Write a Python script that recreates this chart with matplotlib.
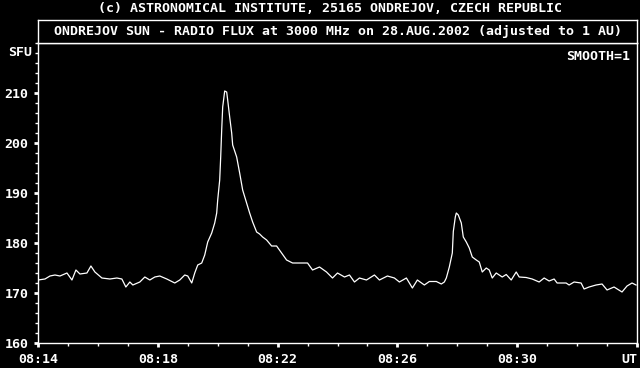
import matplotlib
matplotlib.use("Agg")
import matplotlib.pyplot as plt
from matplotlib.ticker import MultipleLocator

# seconds after 08:14:00 UT and flux in SFU
t_sec = [0, 14, 24, 34, 44, 58, 68, 76, 84, 98, 106, 114, 128, 144, 158, 168,
         176, 184, 190, 204, 214, 224, 234, 244, 258, 274, 284, 294, 300, 308,
         314, 320, 328, 334, 340, 348, 354, 358, 360, 364, 366, 368, 370, 374,
         378, 380, 384, 388, 390, 398, 404, 410, 418, 424, 430, 438, 444, 450,
         458, 468, 478, 488, 498, 510, 524, 540, 550, 564, 578, 590, 600, 614,
         624, 634, 644, 658, 674, 684, 700, 714, 724, 738, 750, 760, 774, 784,
         798, 808, 814, 818, 824, 830, 832, 836, 838, 842, 848, 852, 858, 864,
         870, 878, 884, 890, 898, 904, 910, 918, 924, 930, 938, 948, 958, 964,
         978, 990, 1004, 1014, 1024, 1034, 1040, 1058, 1064, 1074, 1088, 1094,
         1104, 1118, 1130, 1140, 1154, 1170, 1180, 1190, 1198]
flux = [172.6, 172.8, 173.4, 173.6, 173.4, 174.0, 172.6, 174.6, 173.8, 174.0,
        175.4, 174.2, 173.0, 172.8, 173.0, 172.8, 171.2, 172.2, 171.6, 172.2,
        173.2, 172.6, 173.2, 173.4, 172.8, 172.0, 172.6, 173.6, 173.4, 172.0,
        174.0, 175.6, 176.0, 177.6, 180.2, 182.0, 184.0, 186.0, 188.6, 192.6,
        197.2, 202.6, 207.2, 210.4, 210.2, 208.6, 205.2, 202.0, 199.6, 197.2,
        194.0, 190.6, 188.0, 186.0, 184.2, 182.2, 181.8, 181.2, 180.6, 179.4,
        179.4, 178.0, 176.6, 176.0, 176.0, 176.0, 174.6, 175.2, 174.2, 173.0,
        174.0, 173.2, 173.6, 172.2, 173.0, 172.6, 173.6, 172.6, 173.4, 173.0,
        172.2, 173.0, 171.0, 172.6, 171.6, 172.3, 172.3, 171.8, 172.2, 173.0,
        175.2, 178.0, 182.3, 185.2, 186.0, 185.6, 184.0, 181.2, 180.2, 179.0,
        177.2, 176.6, 176.2, 174.2, 175.0, 174.6, 173.0, 174.0, 173.6, 173.2,
        173.7, 172.6, 174.2, 173.2, 173.1, 172.8, 172.2, 173.0, 172.4, 172.8,
        172.0, 172.0, 171.6, 172.2, 172.0, 170.8, 171.2, 171.6, 171.8, 170.6,
        171.2, 170.2, 171.4, 172.0, 171.6]
x_ticks = [14, 18, 22, 26, 30, 34]
x_labels = ["08:14", "08:18", "08:22", "08:26", "08:30", "UT"]
y_ticks = [160, 170, 180, 190, 200, 210]

FONT = "DejaVu Sans Mono"
FS = 9.5
W = "bold"

fig = plt.figure(figsize=(6.4, 3.68), dpi=100, facecolor="black")
ax = fig.add_axes([38 / 640, 1 - 343 / 368, 599 / 640, 300 / 368])
ax.set_facecolor("black")

minutes = [14 + s / 60 for s in t_sec]
ax.plot(minutes, flux, color="white", lw=0.9)

ax.set_xlim(14, 34)
ax.set_ylim(160, 220)
for s in ax.spines.values():
    s.set_color("white")
    s.set_linewidth(1)

ax.set_xticks(x_ticks)
ax.set_xticklabels(x_labels)
ax.xaxis.set_minor_locator(MultipleLocator(1))
ax.set_yticks(y_ticks)
ax.set_yticklabels([str(v) for v in y_ticks])
ax.yaxis.set_minor_locator(MultipleLocator(2))
ax.tick_params(axis="both", which="major", colors="white", length=3, width=2,
               direction="out", pad=4, labelsize=FS)
ax.tick_params(axis="both", which="minor", colors="white", length=2, width=1,
               direction="out")
ax.tick_params(axis="x", which="minor", top=True)
for lab in ax.get_xticklabels() + ax.get_yticklabels():
    lab.set_family(FONT)
    lab.set_weight(W)
ax.get_xticklabels()[-1].set_horizontalalignment("right")

ax.text(592 / 599, 217.2, "SMOOTH=1", transform=ax.get_yaxis_transform(),
        ha="right", va="center", color="white", family=FONT, fontsize=FS,
        weight=W)

# title box
tb = fig.add_axes([38 / 640, 1 - 43 / 368, 599 / 640, 23 / 368])
tb.set_facecolor("black")
tb.set_xticks([])
tb.set_yticks([])
for s in tb.spines.values():
    s.set_color("white")
    s.set_linewidth(1)
tb.text(0.5, 0.5, "ONDREJOV SUN - RADIO FLUX at 3000 MHz on 28.AUG.2002 (adjusted to 1 AU)",
        ha="center", va="center", color="white", family=FONT, fontsize=FS,
        weight=W)

fig.text(330 / 640, 1 - 9 / 368, "(c) ASTRONOMICAL INSTITUTE, 25165 ONDREJOV, CZECH REPUBLIC",
         ha="center", va="center", color="white", family=FONT, fontsize=FS,
         weight=W)
fig.text(32 / 640, 1 - 52 / 368, "SFU", ha="right", va="center", color="white",
         family=FONT, fontsize=FS, weight=W)

fig.savefig("out.png", dpi=100, facecolor="black")
